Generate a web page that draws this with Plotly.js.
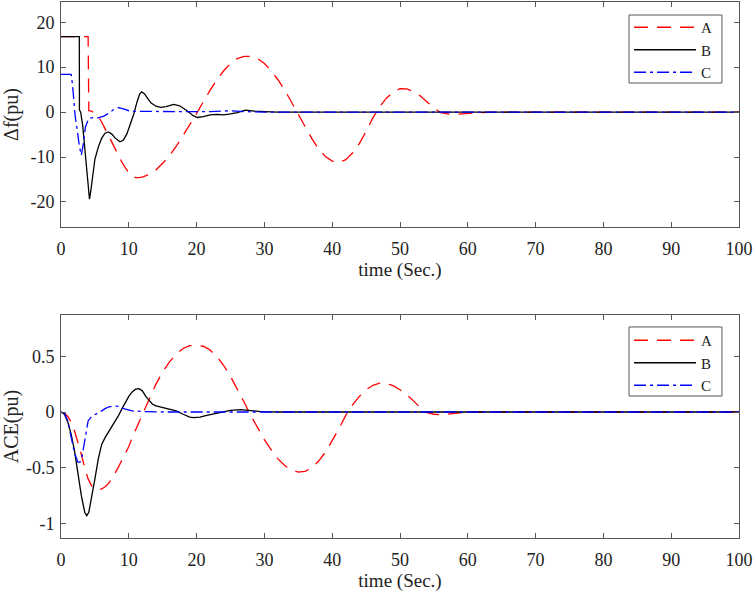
<!DOCTYPE html>
<html>
<head>
<meta charset="utf-8">
<script src="https://cdn.plot.ly/plotly-3.0.1.min.js"></script>
<style>html,body{margin:0;padding:0;background:#fff}#chart{width:754px;height:593px}</style>
</head>
<body>
<div id="chart"></div>
<script>
// ---- Top panel: frequency deviation (Δf, pu) ----
const tA = [0,4.0,4.1,4.5,5,5.5,6,6.5,7,7.5,8,8.5,9,9.5,10,10.5,11,11.5,12,13,14,15,16,17,18,19,20,21,22,23,24,25,26,27,28,29,30,31,32,33,34,35,36,37,38,39,40,41,42,43,44,45,46,47,48,49,50,51,52,53,54,55,56,57,58,59,60,61,62,64,100];
const dfA = [16.8,16.8,0.3,0.2,-0.3,-1.0,-2.2,-3.7,-5.2,-6.8,-8.3,-9.8,-11.2,-12.4,-13.5,-14.2,-14.6,-14.6,-14.45,-13.9,-12.9,-11.4,-9.7,-7.6,-5.3,-2.8,-0.3,2.4,4.9,7.2,9.2,10.8,11.9,12.4,12.4,11.9,10.8,9.2,7.2,4.9,2.3,-0.3,-3.2,-5.9,-8.2,-9.9,-10.9,-11.2,-10.6,-9.1,-7.0,-4.3,-1.3,1.2,3.1,4.5,5.2,5.15,4.6,3.6,2.2,0.9,-0.1,-0.4,-0.5,-0.45,-0.35,-0.2,-0.1,0,0];

const tB = [0,2.7,2.72,2.9,3.2,3.5,3.8,4.0,4.2,4.4,4.7,5.0,5.5,6.0,6.5,7.0,7.5,8.0,8.7,9.2,9.7,10.2,10.7,11.2,11.6,11.9,12.3,12.8,13.3,14.0,14.7,15.5,16.6,17.5,18.5,19.5,20.1,21,22,23,24,25,26,27.2,28.5,30,32,100];
const dfB = [16.8,16.8,0.5,0,-3,-8,-14,-17.5,-19.4,-17.5,-13.5,-10.5,-7.8,-5.8,-4.7,-4.4,-4.9,-5.8,-6.6,-6.2,-4.9,-2.8,-0.6,2.2,4.0,4.5,4.1,3.0,2.0,1.3,1.05,1.2,1.7,1.4,0.4,-0.8,-1.2,-1.0,-0.6,-0.5,-0.6,-0.4,-0.1,0.45,0.2,0.1,0,0];

const tC = [0,1.5,1.7,1.9,2.1,2.4,2.7,3.0,3.3,3.6,4.1,4.8,5.5,6.3,7.0,7.8,8.5,9.2,10,11,14,18,20,22,25,27,30,100];
const dfC = [8.4,8.4,6,1.5,-1,-4,-7.5,-9.6,-7,-3.3,-1.4,-1.2,-1.3,-0.9,-0.3,0.6,1.0,0.7,0.3,0.15,0.1,0.1,0,0.1,0.3,0.1,0,0];

// ---- Bottom panel: ACE (pu) ----
const tA2 = [0,0.5,1,1.5,2,2.5,3,3.5,4,4.5,5,5.5,6,6.5,7,7.5,8,8.5,9,9.5,10,10.5,11,11.5,12,12.5,13,14,15,16,17,18,19,20,21,22,23,24,25,26,27,28,29,30,31,32,33,34,35,36,37,38,39,40,41,42,43,44,45,46,47,48,49,50,51,52,53,54,55,56,57,58,60,100];
const aceA = [0,-0.01,-0.04,-0.09,-0.17,-0.27,-0.38,-0.50,-0.60,-0.66,-0.69,-0.70,-0.69,-0.67,-0.64,-0.60,-0.55,-0.49,-0.43,-0.37,-0.31,-0.23,-0.16,-0.09,-0.02,0.05,0.12,0.25,0.36,0.45,0.52,0.57,0.595,0.60,0.59,0.555,0.496,0.417,0.32,0.209,0.09,-0.033,-0.143,-0.247,-0.34,-0.42,-0.48,-0.52,-0.539,-0.533,-0.50,-0.44,-0.36,-0.26,-0.15,-0.03,0.065,0.14,0.20,0.24,0.26,0.255,0.236,0.20,0.156,0.10,0.04,-0.005,-0.02,-0.025,-0.02,-0.01,0,0];

const tB2 = [0,0.5,1,1.5,2,2.5,3,3.5,3.8,4.1,4.5,5,5.5,6,6.5,7,7.5,8,8.5,9,9.5,10,10.5,11,11.5,12,12.5,13,13.5,14,15,16,17,18,19,19.6,20.5,21.5,23,24,25,26.5,28,29.5,32,100];
const aceB = [0,-0.02,-0.09,-0.2,-0.35,-0.55,-0.75,-0.9,-0.93,-0.9,-0.78,-0.6,-0.42,-0.29,-0.23,-0.18,-0.14,-0.09,-0.03,0.03,0.09,0.14,0.18,0.205,0.21,0.19,0.14,0.1,0.07,0.055,0.04,0.025,0.01,-0.02,-0.045,-0.05,-0.045,-0.03,-0.01,0,0.015,0.022,0.015,0.003,0,0];

const tC2 = [0,0.5,1,1.5,2,2.5,2.8,3.1,3.4,3.7,4,4.5,5,5.5,6,6.5,7,7.8,8.5,9.5,10.5,12,15,100];
const aceC = [0,-0.01,-0.08,-0.22,-0.37,-0.45,-0.45,-0.4,-0.3,-0.17,-0.08,-0.04,-0.025,-0.01,0.01,0.03,0.045,0.055,0.05,0.025,0.01,0.005,0,0];

// ---- Tick labels ----
const xTicks = [0,10,20,30,40,50,60,70,80,90,100];
const yTicksTop = [-20,-10,0,10,20];
const yTickTextTop = ['-20','-10','0','10','20'];
const yTicksBot = [-1,-0.5,0,0.5];
const yTickTextBot = ['-1','-0.5','0','0.5'];
const seriesNames = ['A','B','C'];

const FONT = '"Liberation Serif", "Times New Roman", Times, serif';
const styles = [
  {color:'#ff0000', width:1.3, dash:'14px,9px'},
  {color:'#000000', width:1.3, dash:'solid'},
  {color:'#0000ff', width:1.3, dash:'12px,4px,3px,4px'}
];

const topX = [tA,tB,tC], topY = [dfA,dfB,dfC];
const botX = [tA2,tB2,tC2], botY = [aceA,aceB,aceC];
const traces = [];
for (let i=0;i<3;i++){
  traces.push({x:topX[i], y:topY[i], name:seriesNames[i], type:'scatter', mode:'lines',
    line:styles[i], xaxis:'x', yaxis:'y', legend:'legend'});
}
for (let i=0;i<3;i++){
  traces.push({x:botX[i], y:botY[i], name:seriesNames[i], type:'scatter', mode:'lines',
    line:styles[i], xaxis:'x2', yaxis:'y2', legend:'legend2'});
}

const axc = '#555555';
const base = {showline:true, mirror:'ticks', linecolor:axc, linewidth:1, ticks:'inside', ticklen:5,
  tickcolor:axc, tickwidth:1, showgrid:false, zeroline:false, automargin:false,
  tickfont:{family:FONT, size:18, color:'#222'}};

const legBase = {xanchor:'left', yanchor:'top', borderwidth:0, bgcolor:'rgba(0,0,0,0)',
  font:{family:FONT, size:15, color:'#222'}, itemwidth:62, tracegroupgap:0};

// legend frames (decoration only)
const frameStyle = {type:'rect', xref:'paper', yref:'paper', line:{color:axc, width:1}, fillcolor:'#fff', layer:'above'};

const layout = {
  width:754, height:593,
  margin:{l:61, r:15, t:2, b:55},
  paper_bgcolor:'#fff', plot_bgcolor:'#fff',
  font:{family:FONT, size:18, color:'#222'},
  showlegend:true,
  xaxis: Object.assign({}, base, {domain:[0,1], anchor:'y', range:[0,100], tickvals:xTicks, ticklabelstandoff:5,
    title:{text:'time (Sec.)', font:{family:FONT, size:19}, standoff:3}}),
  yaxis: Object.assign({}, base, {domain:[0.58,1], anchor:'x', range:[-25.6,24.5], tickvals:yTicksTop, ticktext:yTickTextTop, ticklabelstandoff:2,
    title:{text:'Δf(pu)', font:{family:FONT, size:20}, standoff:12}}),
  xaxis2: Object.assign({}, base, {domain:[0,1], anchor:'y2', range:[0,100], tickvals:xTicks, ticklabelstandoff:5,
    title:{text:'time (Sec.)', font:{family:FONT, size:19}, standoff:3}}),
  yaxis2: Object.assign({}, base, {domain:[0,0.416], anchor:'x2', range:[-1.13,0.87], tickvals:yTicksBot, ticktext:yTickTextBot, ticklabelstandoff:2,
    title:{text:'ACE(pu)', font:{family:FONT, size:20}, standoff:12}}),
  shapes:[
    Object.assign({}, frameStyle, {x0:0.8378, x1:0.9749, y0:0.8489, y1:0.9757}),
    Object.assign({}, frameStyle, {x0:0.8378, x1:0.9749, y0:0.2649, y1:0.3937})
  ],
  legend: Object.assign({}, legBase, {x:0.8378, y:0.9832}),
  legend2: Object.assign({}, legBase, {x:0.8378, y:0.3993})
};

Plotly.newPlot('chart', traces, layout, {displayModeBar:false, staticPlot:true});
</script>
</body>
</html>
